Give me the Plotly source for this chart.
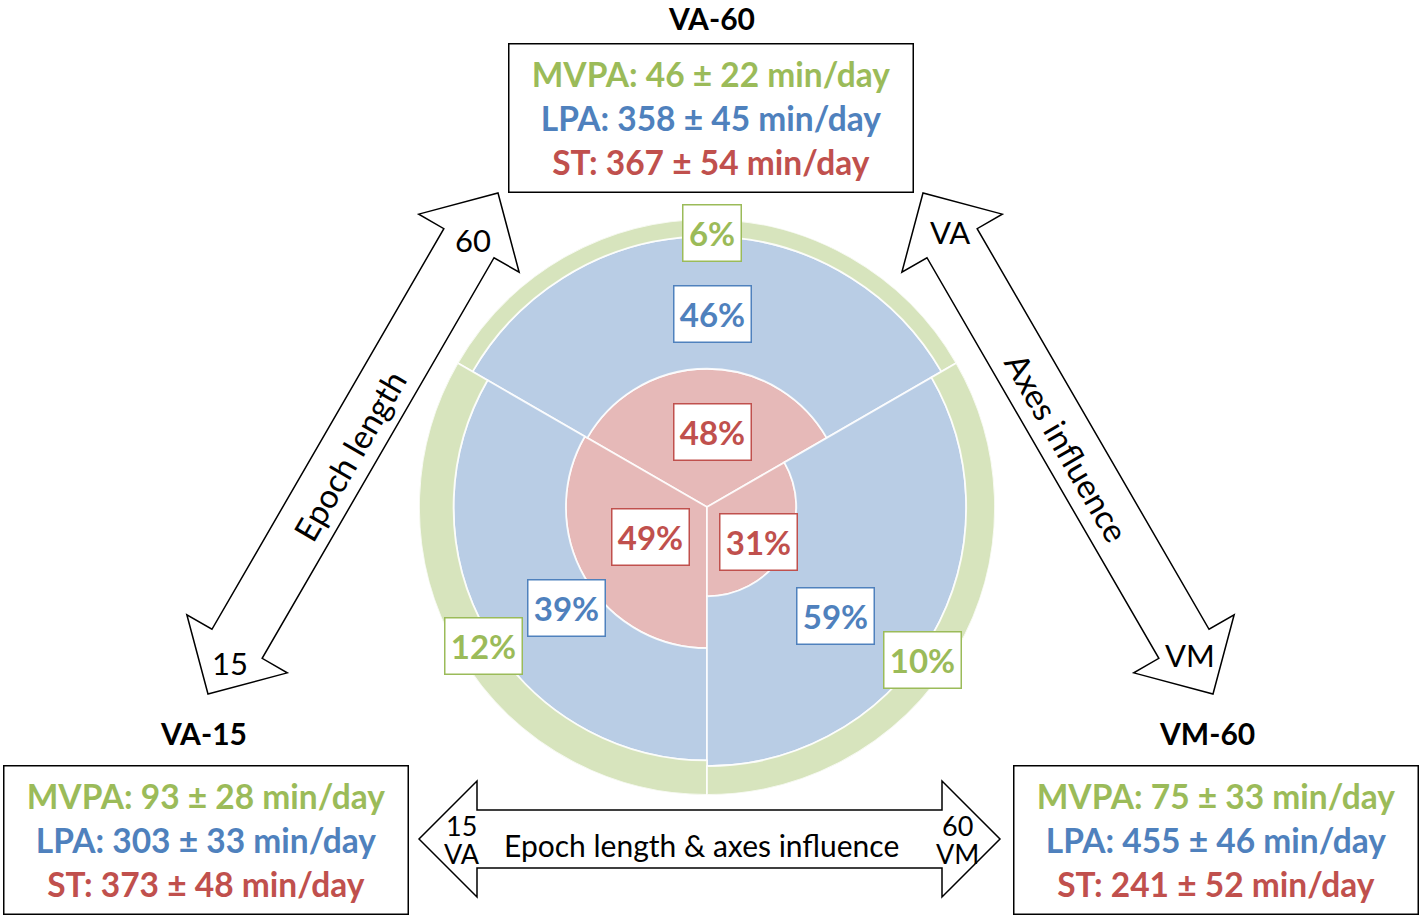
import math
import plotly.graph_objects as go

# ---------------- data ----------------
conditions = ["VA-60", "VA-15", "VM-60"]
st_pct = [48, 49, 31]
lpa_pct = [46, 39, 59]
mvpa_pct = [6, 12, 10]

mvpa_mean = [46, 93, 75]
mvpa_sd = [22, 28, 33]
lpa_mean = [358, 303, 455]
lpa_sd = [45, 33, 46]
st_mean = [367, 373, 241]
st_sd = [54, 48, 52]

# ---------------- style ----------------
W, H = 1419, 915
FONT = "Lato"
GREEN, BLUE, RED = "#9BBB59", "#4F81BD", "#C0504D"
GREEN_F, BLUE_F, RED_F = "#D7E4BD", "#B9CDE5", "#E6B9B8"

CX, CY, R = 707, 507, 288  # polar centre / radius in pixels


def px(x):
    return x / W


def py(y):
    return 1 - y / H


theta = [90 + 120 * i for i in range(len(conditions))]
width = [120] * len(conditions)

fig = go.Figure()
for name, vals, col in [("ST", st_pct, RED_F), ("LPA", lpa_pct, BLUE_F), ("MVPA", mvpa_pct, GREEN_F)]:
    fig.add_trace(go.Barpolar(
        r=vals, theta=theta, width=width, name=name,
        marker=dict(color=col, line=dict(color="rgba(255,255,255,0.85)", width=1.8)),
        hoverinfo="skip", showlegend=False,
    ))

annotations = []

# percentage label boxes (pixel centres)
label_pos = {
    "VA-60": {"MVPA": (712, 233), "LPA": (712, 314), "ST": (712, 432)},
    "VA-15": {"MVPA": (483, 646), "LPA": (566, 608), "ST": (650, 537)},
    "VM-60": {"MVPA": (922, 660), "LPA": (835, 616), "ST": (759, 542)},
}
for i, c in enumerate(conditions):
    for key, vals, col in [("MVPA", mvpa_pct, GREEN), ("LPA", lpa_pct, BLUE), ("ST", st_pct, RED)]:
        x, y = label_pos[c][key]
        txt = f"{vals[i]}%"
        annotations.append(dict(
            x=px(x), y=py(y), xref="paper", yref="paper", showarrow=False,
            text=txt, font=dict(family=FONT, size=33, color=col, weight="bold"),
            bgcolor="white", bordercolor=col, borderwidth=1.5, borderpad=1,
            width=55 if len(txt) == 2 else 74, height=53,
            xanchor="center", yanchor="middle",
        ))

# info boxes
box_pos = {"VA-60": (710.5, 117.5, 711, 18), "VA-15": (205.5, 839.5, 203, 733), "VM-60": (1215.5, 839.5, 1207, 733)}
for i, c in enumerate(conditions):
    bx, by, tx, ty = box_pos[c]
    txt = (f"<span style='color:{GREEN}'>MVPA: {mvpa_mean[i]} ± {mvpa_sd[i]} min/day</span><br>"
           f"<span style='color:{BLUE}'>LPA: {lpa_mean[i]} ± {lpa_sd[i]} min/day</span><br>"
           f"<span style='color:{RED}'>ST: {st_mean[i]} ± {st_sd[i]} min/day</span>")
    annotations.append(dict(
        x=px(bx), y=py(by), xref="paper", yref="paper", showarrow=False,
        text=txt, font=dict(family=FONT, size=33.5, weight="bold"),
        bgcolor="white", bordercolor="black", borderwidth=1.5, borderpad=1,
        width=401, height=145, xanchor="center", yanchor="middle", align="center",
    ))
    annotations.append(dict(
        x=px(tx), y=py(ty), xref="paper", yref="paper", showarrow=False,
        text=c, font=dict(family=FONT, size=30, color="black", weight="bold"),
        xanchor="center", yanchor="middle",
    ))


# block arrows
def double_arrow(p1, p2, w=29, h=58, L=58):
    dx, dy = p2[0] - p1[0], p2[1] - p1[1]
    d = math.hypot(dx, dy)
    ux, uy = dx / d, dy / d
    nx, ny = -uy, ux
    a = (p1[0] + L * ux, p1[1] + L * uy)
    b = (p2[0] - L * ux, p2[1] - L * uy)
    pts = [p1,
           (a[0] + h * nx, a[1] + h * ny), (a[0] + w * nx, a[1] + w * ny),
           (b[0] + w * nx, b[1] + w * ny), (b[0] + h * nx, b[1] + h * ny),
           p2,
           (b[0] - h * nx, b[1] - h * ny), (b[0] - w * nx, b[1] - w * ny),
           (a[0] - w * nx, a[1] - w * ny), (a[0] - h * nx, a[1] - h * ny)]
    path = "M " + " L ".join(f"{px(x):.5f},{py(y):.5f}" for x, y in pts) + " Z"
    return dict(type="path", path=path, xref="paper", yref="paper",
                line=dict(color="black", width=1.5), fillcolor="white", layer="above")


shapes = [
    double_arrow((208, 694), (498, 193)),
    double_arrow((1213, 694), (923, 193)),
    double_arrow((419, 839), (1000, 839)),
]

plain = [
    ("60", 473, 240, 0, 31), ("15", 230, 663, 0, 31),
    ("VA", 950, 232, 0, 31), ("VM", 1190, 655, 0, 31),
    ("Epoch length", 349, 456, -60, 33), ("Axes influence", 1067, 447, 60, 33),
    ("15", 461, 825, 0, 27), ("VA", 462, 853, 0, 27),
    ("60", 958, 825, 0, 27), ("VM", 958, 853, 0, 27),
    ("Epoch length & axes influence", 701, 845, 0, 30),
]
for t, x, y, ang, sz in plain:
    annotations.append(dict(
        x=px(x), y=py(y), xref="paper", yref="paper", showarrow=False,
        text=t, textangle=ang, font=dict(family=FONT, size=sz, color="black"),
        xanchor="center", yanchor="middle",
    ))

fig.update_layout(
    width=W, height=H,
    margin=dict(l=0, r=0, t=0, b=0),
    paper_bgcolor="white", plot_bgcolor="white",
    polar=dict(
        domain=dict(x=[px(CX - R), px(CX + R)], y=[py(CY + R), py(CY - R)]),
        bgcolor="rgba(0,0,0,0)", barmode="stack", hole=0,
        radialaxis=dict(range=[0, 100], visible=False, showgrid=False),
        angularaxis=dict(visible=False, showgrid=False, direction="counterclockwise", rotation=0),
    ),
    shapes=shapes,
    annotations=annotations,
    showlegend=False,
)

fig.write_html("out.html", config={"displayModeBar": False},
               post_script="document.body.style.margin='0';document.body.style.overflow='hidden';")
